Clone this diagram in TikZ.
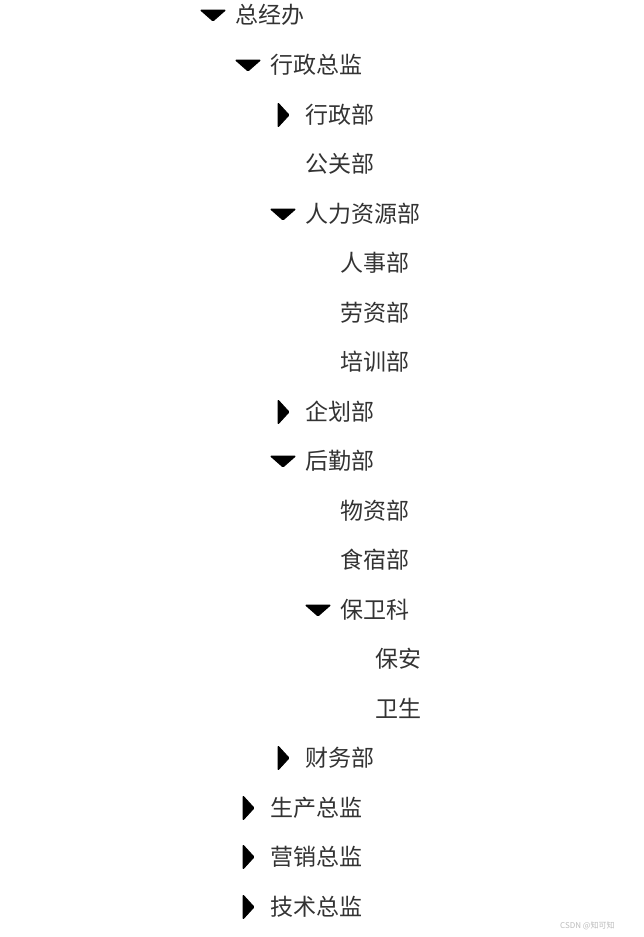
\documentclass[tikz,border=0pt]{standalone}
\usepackage{fontspec}
\setmainfont{Noto Sans CJK SC}
\definecolor{txt}{HTML}{333333}
\definecolor{wm}{HTML}{BBBBBB}
\begin{document}
\begin{tikzpicture}[x=1pt,y=-1pt,
  item/.style={anchor=base west,inner sep=0pt,text=txt,font=\fontsize{23}{27}\selectfont},
  tri/.style={fill=black,draw=black,line width=1pt,line join=round,rounded corners=0.8pt}]
\useasboundingbox (0,0) rectangle (643,937);
\newcommand\row[4]{\node[item] (#1) at (#2,#3+8.6) {#4};}
\newcommand\down[2]{\draw[tri] (#1+0.5,#2-5) -- (#1+25.5,#2-5) -- (#1+13,#2+6) -- cycle;}
\newcommand\rgt[2]{\draw[tri] (#1,#2-12) -- (#1+11,#2) -- (#1,#2+12) -- cycle;}
\row{n1}{235}{15}{总经办}
\down{200}{15}
\row{n2}{270}{65}{行政总监}
\down{235}{65}
\row{n3}{305}{115}{行政部}
\rgt{278}{115}
\row{n4}{305}{164}{公关部}
\row{n5}{305}{214}{人力资源部}
\down{270}{214}
\row{n6}{340}{263}{人事部}
\row{n7}{340}{313}{劳资部}
\row{n8}{340}{362}{培训部}
\row{n9}{305}{412}{企划部}
\rgt{278}{412}
\row{n10}{305}{461}{后勤部}
\down{270}{461}
\row{n11}{340}{511}{物资部}
\row{n12}{340}{560}{食宿部}
\row{n13}{340}{610}{保卫科}
\down{305}{610}
\row{n14}{375}{659}{保安}
\row{n15}{375}{709}{卫生}
\row{n16}{305}{758}{财务部}
\rgt{278}{758}
\row{n17}{270}{808}{生产总监}
\rgt{243}{808}
\row{n18}{270}{857}{营销总监}
\rgt{243}{857}
\row{n19}{270}{907}{技术总监}
\rgt{243}{907}
\node[anchor=base west,inner sep=0pt,text=wm,font=\fontsize{8}{10}\selectfont] (wm) at (560,928.5) {CSDN @知可知};
\end{tikzpicture}
\end{document}
